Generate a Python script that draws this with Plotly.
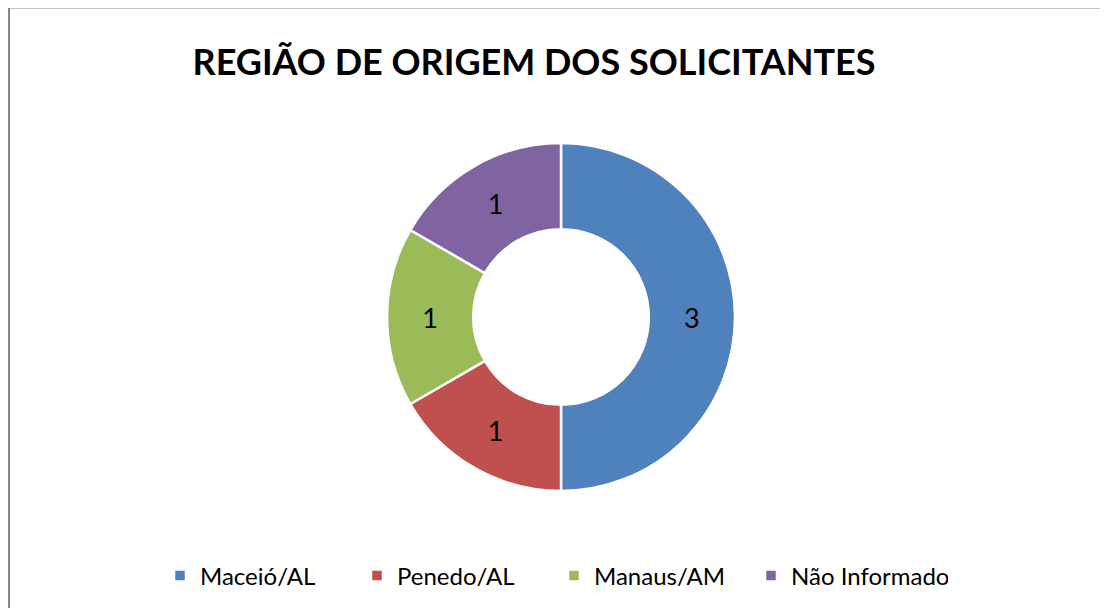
import plotly.graph_objects as go

categories = ["Maceió/AL", "Penedo/AL", "Manaus/AM", "Não Informado"]
values = [3, 1, 1, 1]
colors = ["#4F81BD", "#C0504D", "#9BBB59", "#8064A2"]
title_text = "REGIÃO DE ORIGEM DOS SOLICITANTES"

# page body has an 8px margin, so work in shifted coordinates
OFF = 8
W, H = 1100, 600
cx, cy, R = 561 - OFF, 317 - OFF, 174

fig = go.Figure(go.Pie(
    labels=categories,
    values=values,
    hole=0.505,
    sort=False,
    direction="clockwise",
    rotation=0,
    marker=dict(colors=colors, line=dict(color="white", width=2.5)),
    textinfo="value",
    textposition="inside",
    insidetextorientation="horizontal",
    textfont=dict(family="Lato", size=27, color="black"),
    domain=dict(x=[(cx - R) / W, (cx + R) / W], y=[1 - (cy + R) / H, 1 - (cy - R) / H]),
    hoverinfo="label+value",
))

fig.update_layout(
    width=W, height=H,
    margin=dict(l=0, r=0, t=0, b=0),
    paper_bgcolor="white",
    plot_bgcolor="white",
    title=dict(text="<b>" + title_text + "</b>", x=(534 - OFF) / W, xanchor="center",
               y=1 - (62 - OFF) / H, yanchor="middle", xref="paper", yref="paper",
               font=dict(family="Lato", size=36, color="black")),
    legend=dict(orientation="h", x=(160 - OFF) / W, xanchor="left", y=1 - (576 - OFF) / H,
                yanchor="middle",
                font=dict(family="Lato", size=24, color="black"),
                itemwidth=30, traceorder="normal",
                entrywidth=152, entrywidthmode="pixels"),
    showlegend=True,
    shapes=[
        dict(type="line", xref="paper", yref="paper", x0=(9 - OFF) / W, x1=1.0,
             y0=1 - (7.5 - OFF) / H, y1=1 - (7.5 - OFF) / H,
             line=dict(color="#878787", width=2)),
        dict(type="line", xref="paper", yref="paper", x0=(9 - OFF) / W, x1=(9 - OFF) / W,
             y0=1 - (7 - OFF) / H, y1=0,
             line=dict(color="#878787", width=2)),
    ],
)

fig.write_html("out.html")
